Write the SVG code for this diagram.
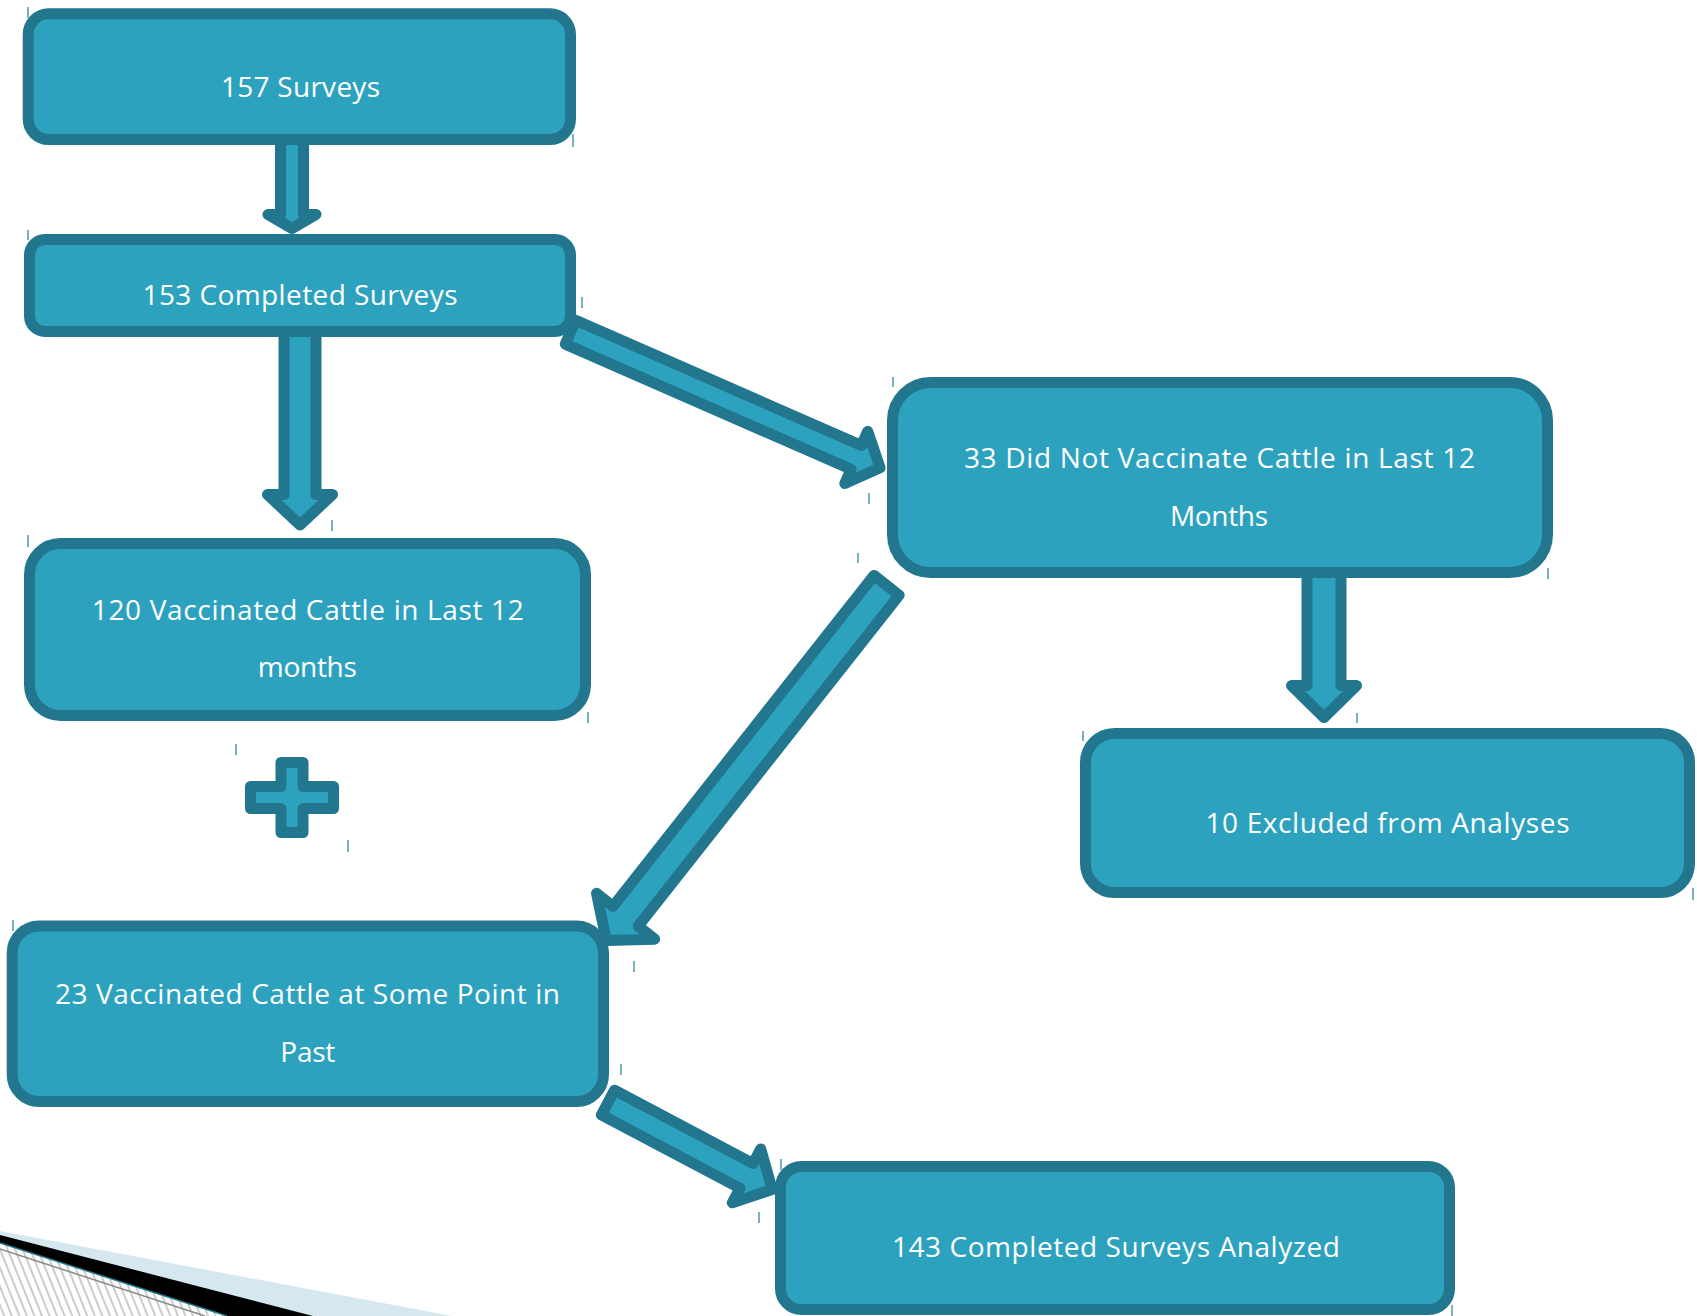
<svg xmlns="http://www.w3.org/2000/svg" width="1697" height="1316" viewBox="0 0 1697 1316">
<style>
.box{fill:#2da2bf;stroke:#22778f;stroke-width:11;}
.arr{fill:#2da2bf;stroke:#22778f;stroke-width:11;stroke-linejoin:round;}
.lbl{font-family:"Open Sans","Liberation Sans",sans-serif;font-size:28px;fill:#ffffff;text-anchor:middle;}
.tick{stroke:#237d95;stroke-width:1.2;}
</style>
<defs>
<pattern id="hatch" width="7" height="7" patternUnits="userSpaceOnUse" patternTransform="rotate(-22)">
<rect width="7" height="7" fill="#ffffff"/>
<line x1="1" y1="0" x2="1" y2="7" stroke="#9a9a9a" stroke-width="1"/>
</pattern>
</defs>
<rect width="1697" height="1316" fill="#ffffff"/>

<g id="decoration">
<polygon points="0,1231 452,1316 0,1316" fill="#d5e8f0"/>
<polygon points="0,1235 313,1316 0,1316" fill="#000000"/>
<polygon points="0,1243 227,1316 0,1316" fill="url(#hatch)"/>
<line x1="0" y1="1243" x2="227" y2="1316" stroke="#22778f" stroke-width="1.5"/>
<line x1="0" y1="1249" x2="205" y2="1316" stroke="#8a8a8a" stroke-width="1.5"/>
</g>

<g id="n1">
<rect class="box" x="28.2" y="13.8" width="542.3" height="125.7" rx="20.5"/>
<text class="lbl" x="300.5" y="97" textLength="159" lengthAdjust="spacing">157 Surveys</text>
</g>
<g id="n2">
<rect class="box" x="29.5" y="239.5" width="541" height="92" rx="15.5"/>
<text class="lbl" x="300" y="305" textLength="315" lengthAdjust="spacing">153 Completed Surveys</text>
</g>
<g id="n3">
<rect class="box" x="29.5" y="543.5" width="556" height="172" rx="31"/>
<text class="lbl" x="307.8" y="620" textLength="432" lengthAdjust="spacing">120 Vaccinated Cattle in Last 12</text>
<text class="lbl" x="307.3" y="677" textLength="99" lengthAdjust="spacing">months</text>
</g>
<g id="plus">
<polygon class="arr" transform="translate(292,797.5)" points="-11,-35 11,-35 11,-11 41.5,-11 41.5,11 11,11 11,35 -11,35 -11,11 -41.5,11 -41.5,-11 -11,-11"/>
</g>
<g id="n4">
<rect class="box" x="12.2" y="926" width="591.3" height="175.5" rx="27"/>
<text class="lbl" x="307.5" y="1004" textLength="505" lengthAdjust="spacing">23 Vaccinated Cattle at Some Point in</text>
<text class="lbl" x="307.8" y="1062" textLength="55" lengthAdjust="spacing">Past</text>
</g>
<g id="n5">
<rect class="box" x="892.5" y="382.5" width="655" height="190" rx="38"/>
<text class="lbl" x="1219.4" y="468" textLength="511" lengthAdjust="spacing">33 Did Not Vaccinate Cattle in Last 12</text>
<text class="lbl" x="1219" y="526" textLength="98" lengthAdjust="spacing">Months</text>
</g>
<g id="n6">
<rect class="box" x="1085.5" y="733.5" width="604" height="159" rx="29"/>
<text class="lbl" x="1387.5" y="833" textLength="364" lengthAdjust="spacing">10 Excluded from Analyses</text>
</g>
<g id="n7">
<rect class="box" x="780.5" y="1166.5" width="669" height="143" rx="21"/>
<text class="lbl" x="1115.9" y="1257" textLength="448" lengthAdjust="spacing">143 Completed Surveys Analyzed</text>
</g>

<g id="connectors">
<polygon class="arr" transform="translate(292,139.5) rotate(90)" points="0,-11.5 75,-11.5 75,-24 89,0 75,24 75,11.5 0,11.5"/>
<polygon class="arr" transform="translate(300,331.5) rotate(90)" points="0,-16 163,-16 163,-32.5 193.5,0 163,32.5 163,16 0,16"/>
<polygon class="arr" transform="translate(1324,572.5) rotate(90)" points="0,-17 113,-17 113,-32.5 145,0 113,32.5 113,17 0,17"/>
<polygon class="arr" transform="translate(570.5,332.2) rotate(23.66)" points="0,-13 312,-13 312,-28.5 338,0 312,28.5 312,13 0,13"/>
<polygon class="arr" transform="translate(886.6,585.3) rotate(128.26)" points="0,-16 421.5,-16 421.5,-37 452.5,0 421.5,37 421.5,16 0,16"/>
<polygon class="arr" transform="translate(607.9,1102.6) rotate(27.86)" points="0,-14 156.8,-14 156.8,-30.5 185.8,0 156.8,30.5 156.8,14 0,14"/>
</g>

<g id="ticks">
<line class="tick" x1="28" y1="7" x2="28" y2="18"/>
<line class="tick" x1="573" y1="134" x2="573" y2="147"/>
<line class="tick" x1="28" y1="230" x2="28" y2="240"/>
<line class="tick" x1="582" y1="297" x2="582" y2="308"/>
<line class="tick" x1="332" y1="520" x2="332" y2="531"/>
<line class="tick" x1="28" y1="535" x2="28" y2="547"/>
<line class="tick" x1="588" y1="712" x2="588" y2="723"/>
<line class="tick" x1="236" y1="744" x2="236" y2="755"/>
<line class="tick" x1="348" y1="840" x2="348" y2="852"/>
<line class="tick" x1="893" y1="377" x2="893" y2="387"/>
<line class="tick" x1="869" y1="493" x2="869" y2="504"/>
<line class="tick" x1="858" y1="553" x2="858" y2="563"/>
<line class="tick" x1="1548" y1="568" x2="1548" y2="579"/>
<line class="tick" x1="1357" y1="713" x2="1357" y2="723"/>
<line class="tick" x1="1083" y1="731" x2="1083" y2="741"/>
<line class="tick" x1="1693" y1="888" x2="1693" y2="900"/>
<line class="tick" x1="13" y1="920" x2="13" y2="931"/>
<line class="tick" x1="634" y1="961" x2="634" y2="972"/>
<line class="tick" x1="621" y1="1064" x2="621" y2="1075"/>
<line class="tick" x1="781" y1="1159" x2="781" y2="1170"/>
<line class="tick" x1="759" y1="1212" x2="759" y2="1223"/>
<line class="tick" x1="1452" y1="1305" x2="1452" y2="1316"/>
</g>
</svg>
